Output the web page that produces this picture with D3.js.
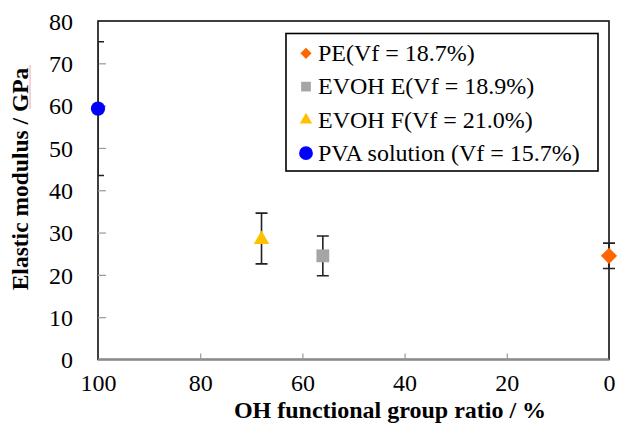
<!DOCTYPE html>
<html>
<head>
<meta charset="utf-8">
<script src="https://cdn.jsdelivr.net/npm/d3@7/dist/d3.min.js"></script>
<style>
  html, body { margin: 0; padding: 0; background: #fff; }
</style>
</head>
<body>
<svg id="chart" width="617" height="428"></svg>
<script>
// Módulo elástico frente a proporción de grupos OH
const series = ['PE(Vf = 18.7%)', 'EVOH E(Vf = 18.9%)', 'EVOH F(Vf = 21.0%)', 'PVA solution (Vf = 15.7%)'];
const ohRatio = [0, 56, 68, 100];
const modulus = [24.5, 24.5, 28.6, 59.3];
const errBar = [3.0, 4.7, 6.0, 15.8];
const seriesColors = ['#FF6600', '#A5A5A5', '#FFC000', '#0000FF'];
const seriesSymbols = [d3.symbolDiamond2, d3.symbolSquare2, d3.symbolTriangle2, d3.symbolCircle];
const xTicks = [100, 80, 60, 40, 20, 0];
const yTicks = [0, 10, 20, 30, 40, 50, 60, 70, 80];

const FONT = '"Liberation Serif"';
const W = 617, H = 428;
const P = { left: 98, right: 609, top: 21, bottom: 359.5 };
const svg = d3.select('#chart');

const x = d3.scaleLinear().domain([100, 0]).range([P.left, P.right]);
const y = d3.scaleLinear().domain([0, 80]).range([P.bottom, P.top]);

// marco del área de trazado
svg.append('rect')
  .attr('x', P.left).attr('y', P.top)
  .attr('width', P.right - P.left).attr('height', P.bottom - P.top)
  .attr('fill', 'none').attr('stroke', '#111').attr('stroke-width', 1.6);

// eje Y: marcas hacia dentro, grises
const gy = svg.append('g').attr('transform', `translate(${P.left},0)`)
  .call(d3.axisLeft(y).tickValues(yTicks).tickSize(-8).tickPadding(25).tickFormat(d3.format('d')));
gy.attr('font-family', null);
gy.select('.domain').remove();
gy.selectAll('.tick line').attr('stroke', '#9a9a9a').attr('stroke-width', 1.2)
  .filter(d => d === 0 || d === 80).remove();
gy.selectAll('.tick text').attr('fill', '#000').style('font-size', '24px').attr('dy', '0.34em');

// eje X: invertido (100 → 0)
const gx = svg.append('g').attr('transform', `translate(0,${P.bottom})`)
  .call(d3.axisBottom(x).tickValues(xTicks).tickSize(-6).tickPadding(14).tickFormat(d3.format('d')));
gx.attr('font-family', null);
gx.select('.domain').attr('stroke', '#8c8c8c').attr('stroke-width', 1.8)
  .attr('d', `M${P.left},0H${P.right}`);
gx.selectAll('.tick line').attr('stroke', '#9a9a9a').attr('stroke-width', 1.2)
  .filter(d => d === 0 || d === 100).remove();
gx.selectAll('.tick text').attr('fill', '#000').style('font-size', '24px');

// títulos de ejes
svg.append('text')
  .attr('x', 390).attr('y', 418)
  .attr('text-anchor', 'middle').attr('font-weight', 700).style('font-size', '24px')
  .text('OH functional group ratio / %');
svg.append('text')
  .attr('transform', `translate(28,${(65 + 293) / 2}) rotate(-90)`)
  .attr('text-anchor', 'middle').attr('font-weight', 700).style('font-size', '23.5px')
  .text('Elastic modulus / GPa');
// subrayado del corrector bajo "GPa"
svg.append('line').attr('x1', 30).attr('x2', 30).attr('y1', 65).attr('y2', 109)
  .attr('stroke', '#f2a5a5').attr('stroke-width', 1);

// barras de error (recortadas al área de trazado por la izquierda)
svg.append('clipPath').attr('id', 'clipErr').append('rect')
  .attr('x', P.left).attr('y', 0).attr('width', W - P.left).attr('height', H);
const idx = d3.range(series.length);
const gErr = svg.append('g').attr('clip-path', 'url(#clipErr)');
gErr.selectAll('path').data(idx).join('path')
  .attr('fill', 'none').attr('stroke', '#222').attr('stroke-width', 1.6)
  .attr('d', i => {
    const cx = x(ohRatio[i]), y0 = y(modulus[i] - errBar[i]), y1 = y(modulus[i] + errBar[i]), c = 6;
    return `M${cx},${y0}V${y1}M${cx - c},${y1}H${cx + c}M${cx - c},${y0}H${cx + c}`;
  });

// marcadores
const markerSize = [170, 210, 170, 160];
svg.append('g').selectAll('path').data(idx).join('path')
  .attr('transform', i => `translate(${x(ohRatio[i])},${y(modulus[i]) + (i === 2 ? 1 : 0)})`)
  .attr('d', i => d3.symbol(seriesSymbols[i], markerSize[i])())
  .attr('fill', i => seriesColors[i]);

// leyenda
const leg = svg.append('g');
leg.append('rect').attr('x', 286).attr('y', 33.5).attr('width', 312).attr('height', 137.5)
  .attr('fill', '#fff').attr('stroke', '#000').attr('stroke-width', 1.6);
const legSize = [80, 120, 110, 150];
const row = leg.selectAll('g.row').data(idx).join('g')
  .attr('transform', i => `translate(306,${53.3 + i * 33.3})`);
row.append('path')
  .attr('d', i => d3.symbol(seriesSymbols[i], legSize[i])())
  .attr('fill', i => seriesColors[i]);
row.append('text').attr('x', 12).attr('y', 7.8)
  .style('font-size', '24px').attr('fill', '#000')
  .text(i => series[i]);

// todas las etiquetas con serif tipo Times
svg.selectAll('text').style('font-family', FONT);
</script>
</body>
</html>
